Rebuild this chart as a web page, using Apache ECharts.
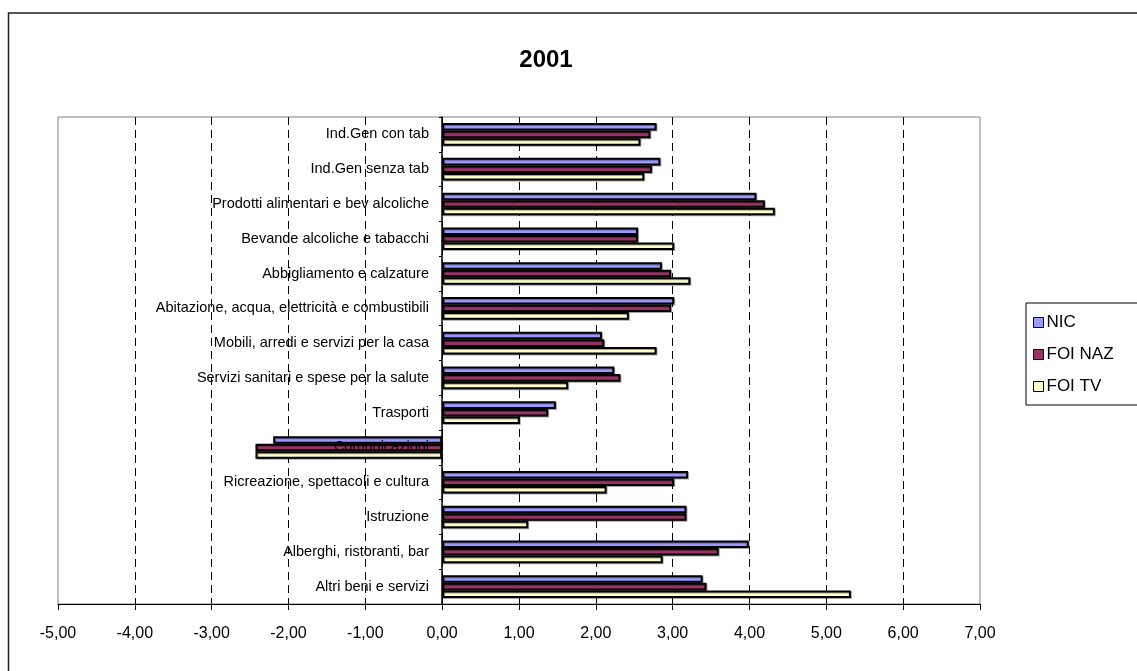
<!DOCTYPE html>
<html>
<head>
<meta charset="utf-8">
<title>2001</title>
<script src="https://cdn.jsdelivr.net/npm/echarts@6/dist/echarts.min.js"></script>
<style>
  html, body { margin: 0; padding: 0; background: #fff; }
  #chart { width: 1137px; height: 671px; }
</style>
</head>
<body>
<div id="chart"></div>
<script>
// categorie (dall'alto verso il basso)
const categories = [
  'Ind.Gen con tab',
  'Ind.Gen senza tab',
  'Prodotti alimentari e bev alcoliche',
  'Bevande alcoliche e tabacchi',
  'Abbigliamento e calzature',
  'Abitazione, acqua, elettricità e combustibili',
  'Mobili, arredi e servizi per la casa',
  'Servizi sanitari e spese per la salute',
  'Trasporti',
  'Comunicazioni',
  'Ricreazione, spettacoli e cultura',
  'Istruzione',
  'Alberghi, ristoranti, bar',
  'Altri beni e servizi'
]

const nic = [2.79, 2.84, 4.09, 2.55, 2.86, 3.02, 2.08, 2.24, 1.48, -2.20, 3.20, 3.18, 3.99, 3.39]
const foiNaz = [2.71, 2.73, 4.20, 2.55, 2.98, 2.98, 2.11, 2.32, 1.38, -2.43, 3.02, 3.18, 3.60, 3.44]
const foiTv = [2.58, 2.63, 4.33, 3.02, 3.23, 2.43, 2.79, 1.64, 1.01, -2.43, 2.14, 1.12, 2.87, 5.32]

const seriesNames = ['NIC', 'FOI NAZ', 'FOI TV']
const seriesColors = ['#9999ff', '#993366', '#ffffcc']

const font = "'Liberation Sans', Arial, sans-serif"

const chart = echarts.init(document.getElementById('chart'))

// stile comune delle barre
const makeBar = (name, data, color) => ({
  name: name,
  type: 'bar',
  data: data,
  barGap: '0%',
  barCategoryGap: '35%',
  itemStyle: {
    color: color,
    borderColor: '#000',
    borderWidth: 2,
    shadowColor: 'rgba(0, 0, 0, 0.35)',
    shadowOffsetX: 1,
    shadowOffsetY: 1
  },
  emphasis: { disabled: true }
})

const option = {
  animation: false,
  backgroundColor: '#fff',
  title: {
    text: '2001',
    left: 541,
    top: 43,
    textAlign: 'center',
    textStyle: {
      fontFamily: font,
      fontSize: 24,
      fontWeight: 'bold',
      color: '#000'
    }
  },
  legend: {
    orient: 'vertical',
    left: 1026,
    top: 303,
    padding: [11, 40, 10, 7],
    itemGap: 15,
    itemWidth: 10,
    itemHeight: 10,
    icon: 'rect',
    borderColor: '#000',
    borderWidth: 1,
    itemStyle: { borderColor: '#000', borderWidth: 1 },
    textStyle: { fontFamily: font, fontSize: 17, color: '#000', padding: [0, 0, 0, -2] },
    data: seriesNames
  },
  grid: {
    left: 58,
    right: 157,
    top: 117,
    bottom: 67,
    show: true,
    borderColor: '#808080',
    borderWidth: 1,
    outerBoundsMode: 'none'
  },
  xAxis: {
    type: 'value',
    min: -5,
    max: 7,
    interval: 1,
    axisLine: { show: true, lineStyle: { color: '#000', width: 1 } },
    axisTick: { show: true, length: 6, lineStyle: { color: '#000' } },
    axisLabel: {
      margin: 22,
      fontFamily: font,
      fontSize: 16,
      color: '#000',
      formatter: (v) => v.toFixed(2).replace('.', ',')
    },
    splitLine: {
      show: true,
      showMinLine: false,
      showMaxLine: false,
      lineStyle: { color: '#000', type: [8, 5], width: 1 }
    }
  },
  yAxis: {
    type: 'category',
    inverse: true,
    data: categories.map(c => ({ value: c, textStyle: { color: '#000', opacity: 1 } })),
    position: 'left',
    // asse spostato sullo zero dei valori
    offset: -384,
    zlevel: 1,
    z: 10,
    axisLine: { show: true, onZero: false, lineStyle: { color: '#000', width: 1.5 } },
    axisTick: { show: true, length: 3, lineStyle: { color: '#000' } },
    axisLabel: {
      margin: 13,
      fontFamily: font,
      fontSize: 14.5,
      color: '#000',
      opacity: 1,
      backgroundColor: 'transparent',
      textBorderWidth: 0,
      textShadowBlur: 0
    },
    splitLine: { show: false }
  },
  graphic: [
    {
      type: 'rect',
      silent: true,
      z: -1,
      shape: { x: 8.5, y: 13, width: 1200, height: 700 },
      style: { fill: 'none', stroke: '#222', lineWidth: 1.5 }
    }
  ],
  series: [
    makeBar(seriesNames[0], nic, seriesColors[0]),
    makeBar(seriesNames[1], foiNaz, seriesColors[1]),
    makeBar(seriesNames[2], foiTv, seriesColors[2])
  ]
}

chart.setOption(option)
</script>
</body>
</html>
